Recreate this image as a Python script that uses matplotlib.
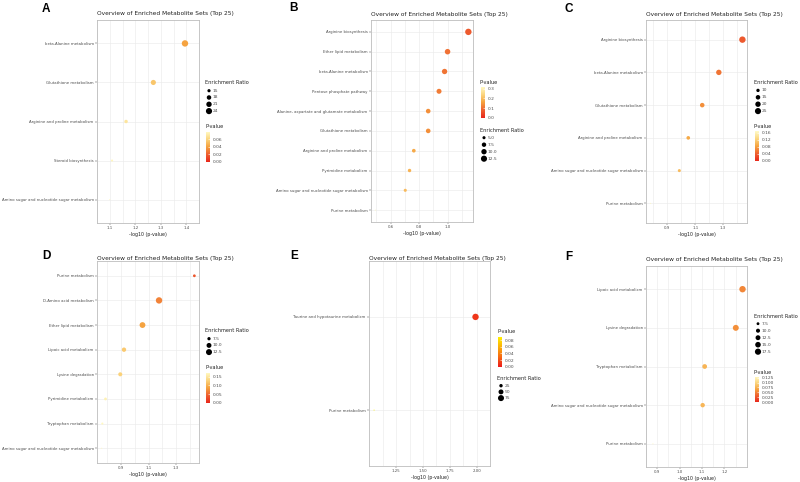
import matplotlib
matplotlib.use('Agg')
import matplotlib.pyplot as plt
import numpy as np
from matplotlib.colors import LinearSegmentedColormap, Normalize
from matplotlib.cm import ScalarMappable

W, H = 800, 482
TITLE = "Overview of Enriched Metabolite Sets (Top 25)"

# ---- panel data (pathways listed top to bottom) ----
A_PATHWAYS = ["beta-Alanine metabolism", "Glutathione metabolism",
              "Arginine and proline metabolism", "Steroid biosynthesis",
              "Amino sugar and nucleotide sugar metabolism"]
A_LOGP = [1.395, 1.271, 1.164, 1.109, 1.100]
A_RATIO = [25, 20, 15.5, 13.5, 13]
A_XTICKS = [1.1, 1.2, 1.3, 1.4]
A_SIZE_BREAKS = [15, 18, 21, 24]
A_P_BREAKS = [0.00, 0.02, 0.04, 0.06]

B_PATHWAYS = ["Arginine biosynthesis", "Ether lipid metabolism",
              "beta-Alanine metabolism", "Pentose phosphate pathway",
              "Alanine, aspartate and glutamate metabolism", "Glutathione metabolism",
              "Arginine and proline metabolism", "Pyrimidine metabolism",
              "Amino sugar and nucleotide sugar metabolism", "Purine metabolism"]
B_LOGP = [1.146, 1.000, 0.979, 0.940, 0.864, 0.864, 0.763, 0.733, 0.703, 0.495]
B_RATIO = [13.5, 10.5, 10, 9, 8, 8, 6, 5.5, 5, 3.5]
B_XTICKS = [0.6, 0.8, 1.0]
B_SIZE_BREAKS = [5.0, 7.5, 10.0, 12.5]
B_P_BREAKS = [0.0, 0.1, 0.2, 0.3]

C_PATHWAYS = ["Arginine biosynthesis", "beta-Alanine metabolism",
              "Glutathione metabolism", "Arginine and proline metabolism",
              "Amino sugar and nucleotide sugar metabolism", "Purine metabolism"]
C_LOGP = [1.438, 1.269, 1.150, 1.050, 0.986, 0.780]
C_RATIO = [27, 20, 15, 11, 9, 6]
C_XTICKS = [0.9, 1.1, 1.3]
C_SIZE_BREAKS = [10, 15, 20, 25]
C_P_BREAKS = [0.00, 0.04, 0.08, 0.12, 0.16]

D_PATHWAYS = ["Purine metabolism", "D-Amino acid metabolism", "Ether lipid metabolism",
              "Lipoic acid metabolism", "Lysine degradation", "Pyrimidine metabolism",
              "Tryptophan metabolism", "Amino sugar and nucleotide sugar metabolism"]
D_LOGP = [1.432, 1.176, 1.056, 0.922, 0.895, 0.788, 0.765, 0.760]
D_RATIO = [7, 13.5, 12, 9, 8.5, 7, 6.5, 6.2]
D_XTICKS = [0.9, 1.1, 1.3]
D_SIZE_BREAKS = [7.5, 10.0, 12.5]
D_P_BREAKS = [0.00, 0.05, 0.10, 0.15]

E_PATHWAYS = ["Taurine and hypotaurine metabolism", "Purine metabolism"]
E_LOGP = [1.990, 1.044]
E_RATIO = [85, 10]
E_XTICKS = [1.25, 1.50, 1.75, 2.00]
E_SIZE_BREAKS = [25, 50, 75]
E_P_BREAKS = [0.00, 0.02, 0.04, 0.06, 0.08]

F_PATHWAYS = ["Lipoic acid metabolism", "Lysine degradation", "Tryptophan metabolism",
              "Amino sugar and nucleotide sugar metabolism", "Purine metabolism"]
F_LOGP = [1.281, 1.251, 1.112, 1.103, 0.881]
F_RATIO = [18.5, 16.5, 12, 11, 6]
F_XTICKS = [0.9, 1.0, 1.1, 1.2]
F_SIZE_BREAKS = [7.5, 10.0, 12.5, 15.0, 17.5]
F_P_BREAKS = [0.000, 0.025, 0.050, 0.075, 0.100, 0.125]

# ---- layout in pixels ----
# axes box (x0, y0, x1, y1), title y, letter pos, legend x, size legend title y,
# size dot step, colorbar title y, colorbar top/bottom, label formats
LAYOUT = {
    "A": dict(box=(97, 20, 199, 223), title_y=14, letter=(46, 9), leg_x=205,
              size_y=83, step=6.8, p_y=127, cbar=(131.7, 161.7),
              xfmt="{:.1f}", sfmt="{:g}", pfmt="{:.2f}"),
    "B": dict(box=(371, 20, 473, 222), title_y=14.7, letter=(294, 8), leg_x=480,
              size_y=130, step=7.0, p_y=82.3, cbar=(86.7, 117.7),
              xfmt="{:.1f}", sfmt="{:.1f}", pfmt="{:.1f}"),
    "C": dict(box=(646, 20, 747, 223), title_y=14.7, letter=(569, 9), leg_x=754,
              size_y=82.7, step=6.9, p_y=126.7, cbar=(131.5, 161),
              xfmt="{:.1f}", sfmt="{:g}", pfmt="{:.2f}"),
    "D": dict(box=(97, 261, 199, 463), title_y=258.7, letter=(46, 256), leg_x=205,
              size_y=331, step=6.7, p_y=367.7, cbar=(372.7, 402.7),
              xfmt="{:.1f}", sfmt="{:.1f}", pfmt="{:.2f}"),
    "E": dict(box=(369, 261, 490, 466), title_y=258.3, letter=(294, 256), leg_x=497,
              size_y=378, step=6.2, p_y=331.3, cbar=(336.7, 366.7),
              xfmt="{:.2f}", sfmt="{:g}", pfmt="{:.2f}"),
    "F": dict(box=(646, 266, 747, 467), title_y=259, letter=(569, 257), leg_x=754,
              size_y=316, step=7.0, p_y=372.5, cbar=(376.5, 402),
              xfmt="{:.1f}", sfmt="{:.1f}", pfmt="{:.3f}"),
}

PANELS = {
    "A": (A_PATHWAYS, A_LOGP, A_RATIO, A_XTICKS, A_SIZE_BREAKS, A_P_BREAKS),
    "B": (B_PATHWAYS, B_LOGP, B_RATIO, B_XTICKS, B_SIZE_BREAKS, B_P_BREAKS),
    "C": (C_PATHWAYS, C_LOGP, C_RATIO, C_XTICKS, C_SIZE_BREAKS, C_P_BREAKS),
    "D": (D_PATHWAYS, D_LOGP, D_RATIO, D_XTICKS, D_SIZE_BREAKS, D_P_BREAKS),
    "E": (E_PATHWAYS, E_LOGP, E_RATIO, E_XTICKS, E_SIZE_BREAKS, E_P_BREAKS),
    "F": (F_PATHWAYS, F_LOGP, F_RATIO, F_XTICKS, F_SIZE_BREAKS, F_P_BREAKS),
}

CMAP_SOFT = LinearSegmentedColormap.from_list(
    "soft", ["#E8281C", "#EE6030", "#F5A23E", "#FBD57E", "#FFF9C4"])
CMAP_BRIGHT = LinearSegmentedColormap.from_list(
    "bright", ["#EC1C1C", "#F66A12", "#FBB00A", "#FFF200"])

GRAY30 = "#4D4D4D"
PX = 72 / 100  # points per pixel at dpi=100

plt.rcParams['font.family'] = 'DejaVu Sans'

fig = plt.figure(figsize=(W / 100, H / 100), dpi=100)
fig.patch.set_facecolor('white')

# overlay axes in pixel coordinates for letters, titles and legend keys
over = fig.add_axes([0, 0, 1, 1], zorder=10)
over.set_xlim(0, W)
over.set_ylim(H, 0)
over.axis('off')
over.patch.set_alpha(0)


def size_of(v, vmin, vmax, dmin=1.0, dmax=6.4):
    t = np.clip((np.asarray(v, float) - vmin) / (vmax - vmin), 0, 1)
    d = dmin + np.sqrt(t) * (dmax - dmin)
    return (d * PX) ** 2


def px_axes(box, **kw):
    x0, y0, x1, y1 = box
    return fig.add_axes([x0 / W, 1 - y1 / H, (x1 - x0) / W, (y1 - y0) / H], **kw)


for key, (names, logp, ratio, xticks, sbreaks, pbreaks) in PANELS.items():
    lay = LAYOUT[key]
    n = len(names)
    ypos = np.arange(n, 0, -1)
    logp = np.asarray(logp)
    pval = 10 ** (-logp)
    cmap = CMAP_BRIGHT if key == "E" else CMAP_SOFT
    norm = Normalize(0, pval.max())
    rmin, rmax = min(ratio), max(ratio)

    ax = px_axes(lay["box"])
    ax.scatter(logp, ypos, s=size_of(ratio, rmin, rmax), c=pval, cmap=cmap,
               norm=norm, edgecolors='none', zorder=3)
    ax.margins(x=0.05)
    ax.set_ylim(0.4, n + 0.6)
    ax.set_yticks(ypos)
    ax.set_yticklabels(names)
    ax.set_xticks(xticks)
    ax.set_xticklabels([lay["xfmt"].format(t) for t in xticks])
    step = xticks[1] - xticks[0]
    minor = np.arange(xticks[0] - step / 2, xticks[-1] + step, step)
    ax.set_xticks(minor, minor=True)
    ax.tick_params(axis='x', which='minor', length=0)
    ax.tick_params(axis='both', which='major', labelsize=2.8, colors='#555555',
                   labelcolor=GRAY30, length=1.4, width=0.35, pad=1)
    ax.grid(True, which='both', color='#EBEBEB', linewidth=0.45, zorder=0)
    ax.set_axisbelow(True)
    for sp in ax.spines.values():
        sp.set_color('#BDBDBD')
        sp.set_linewidth(0.6)
    ax.set_xlabel("-log10 (p-value)", fontsize=3.4, color='#222222', labelpad=1.2)

    x0, y0, x1, y1 = lay["box"]
    over.text(x0, lay["title_y"], TITLE, fontsize=4.2, color='#222222',
              ha='left', va='center')
    over.text(*lay["letter"], key, fontsize=8.5, fontweight='bold',
              family='Liberation Sans', ha='center', va='center')

    lx = lay["leg_x"]
    # size legend
    over.text(lx, lay["size_y"], "Enrichment Ratio", fontsize=3.6,
              color='#222222', ha='left', va='center')
    dy = lay["size_y"] + 7.7 + lay["step"] * np.arange(len(sbreaks))
    over.scatter(np.full(len(sbreaks), lx + 4), dy, s=size_of(sbreaks, rmin, rmax),
                 color='black', edgecolors='none')
    for b, yy in zip(sbreaks, dy):
        over.text(lx + 8, yy, lay["sfmt"].format(b), fontsize=3.2, color=GRAY30,
                  ha='left', va='center')

    # colour legend
    over.text(lx, lay["p_y"], "P-value", fontsize=3.6, color='#222222',
              ha='left', va='center')
    ct, cb = lay["cbar"]
    cax = px_axes((lx + 0.8, ct, lx + 5.3, cb))
    cbar = fig.colorbar(ScalarMappable(norm=norm, cmap=cmap), cax=cax)
    cbar.outline.set_visible(False)
    cbar.set_ticks(pbreaks)
    cbar.set_ticklabels([lay["pfmt"].format(p) for p in pbreaks])
    cax.tick_params(labelsize=3.2, labelcolor=GRAY30, color='white',
                    direction='in', length=1.2, width=0.4, pad=1.8)

fig.savefig("out.png", dpi=100, facecolor='white')
